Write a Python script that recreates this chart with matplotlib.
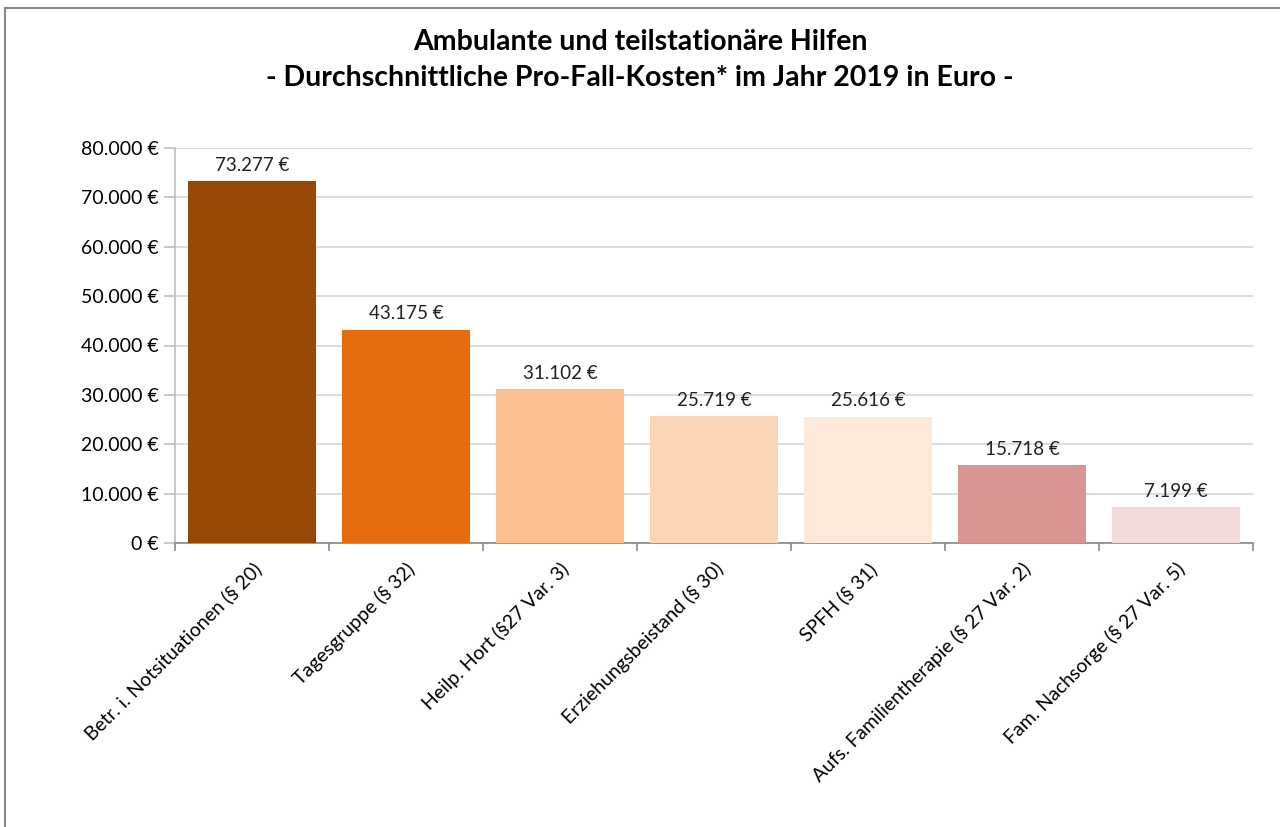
import numpy as np
import matplotlib.pyplot as plt
from matplotlib.ticker import FuncFormatter, FixedLocator
from matplotlib.lines import Line2D

plt.rcParams['font.family'] = ['Lato', 'DejaVu Sans']

categories = ['Betr. i. Notsituationen (§ 20)', 'Tagesgruppe (§ 32)',
              'Heilp. Hort (§27 Var. 3)', 'Erziehungsbeistand (§ 30)',
              'SPFH (§ 31)', 'Aufs. Familientherapie (§ 27 Var. 2)',
              'Fam. Nachsorge (§ 27 Var. 5)']
values = [73277, 43175, 31102, 25719, 25616, 15718, 7199]
colors = ['#974706', '#E46C0A', '#FAC090', '#FBD5B5', '#FDE9D9', '#D99594', '#F2DBDB']


def euro(v, pos=None):
    return '{:,.0f} €'.format(v).replace(',', '.')


fig = plt.figure(figsize=(12.8, 8.27), dpi=100)
ax = fig.add_axes([175/1280, 1-543/827, (1253-175)/1280, (543-148)/827])

x = np.arange(len(values))
ax.bar(x, values, width=0.83, color=colors, zorder=3)
for xi, v in zip(x, values):
    ax.text(xi, v + 1500, euro(v), ha='center', va='bottom', fontsize=13.5, color='#222222')

ax.set_xlim(-0.5, len(values) - 0.5)
ax.set_ylim(0, 80000)
ax.set_yticks(np.arange(0, 80001, 10000))
ax.yaxis.set_major_formatter(FuncFormatter(euro))
ax.grid(axis='y', color='#d9d9d9', linewidth=1.3, zorder=0)
ax.axhline(80000, color='#bfbfbf', linewidth=1.3, zorder=1)

ax.set_xticks(x)
ax.set_xticklabels(categories, rotation=45, ha='right', rotation_mode='anchor', fontsize=14)
ax.tick_params(axis='x', length=0, pad=12)
ax.xaxis.set_minor_locator(FixedLocator(np.arange(-0.5, len(values), 1)))
ax.tick_params(axis='x', which='minor', length=6, color='#888888', width=1.2)
ax.tick_params(axis='y', length=8, color='#bfbfbf', width=1.2, labelsize=14, pad=4)

for s in ['top', 'right']:
    ax.spines[s].set_visible(False)
ax.spines['left'].set_color('#bfbfbf')
ax.spines['left'].set_linewidth(1.2)
ax.spines['bottom'].set_color('#888888')
ax.spines['bottom'].set_linewidth(1.2)

fig.text(0.5, 1-42/827, 'Ambulante und teilstationäre Hilfen', ha='center', va='center',
         fontsize=20.5, fontweight='bold')
fig.text(0.5, 1-78/827, '- Durchschnittliche Pro-Fall-Kosten* im Jahr 2019 in Euro -',
         ha='center', va='center', fontsize=20.5, fontweight='bold')

# chart frame
fig.add_artist(Line2D([5/1280, 5/1280], [0, 1-8/827], transform=fig.transFigure, color='#888888', lw=1.5))
fig.add_artist(Line2D([5/1280, 1], [1-8/827, 1-8/827], transform=fig.transFigure, color='#888888', lw=1.5))

fig.savefig('out.png', dpi=100)
